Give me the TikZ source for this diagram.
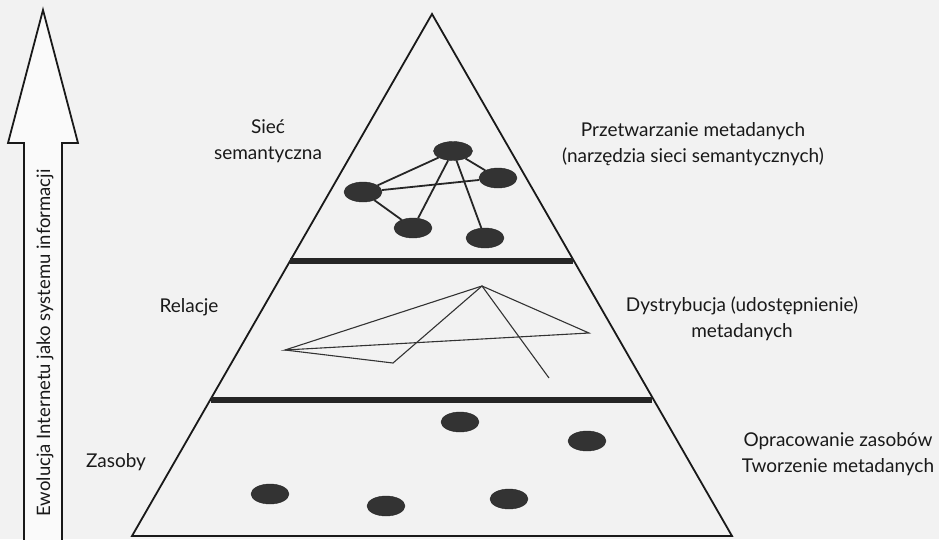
\documentclass[tikz,border=0pt]{standalone}
\usepackage{fontspec}
\setmainfont{Lato}
\usetikzlibrary{shapes.geometric}
\begin{document}
\begin{tikzpicture}[x=1pt,y=-1pt,
  txt/.style={font=\fontsize{19}{25.5}\selectfont, text=black!90, align=center, inner sep=0pt},
  dot/.style={ellipse, fill=black!80, draw=black!85, minimum width=38pt, minimum height=20pt, inner sep=0pt},
  edge/.style={draw=black!85, line width=1.8pt},
  rel/.style={draw=black!80, line width=1.1pt},
  band/.style={draw=black!85, line width=6pt},
  frame/.style={draw=black!90, line width=1.8pt, line join=miter}]
\fill[black!5] (0,0) rectangle (939,539);
\useasboundingbox (0,0) rectangle (939,539);

% arrow
\draw[frame, fill=white!60!black!5] (24,542) -- (24,143) -- (8,143) -- (43,10) -- (78,143) -- (62,143) -- (62,542);
\node[txt, rotate=90, font=\fontsize{18.5}{22}\selectfont] (evo) at (45,343) {Ewolucja Internetu jako systemu informacji};

% pyramid
\coordinate (apex) at (432,14);
\coordinate (bl) at (132,536);
\coordinate (br) at (732,536);
\draw[frame] (bl) -- (apex) -- (br) -- cycle;
\coordinate (b1l) at (290,261);
\coordinate (b1r) at (573,261);
\coordinate (b2l) at (211,400);
\coordinate (b2r) at (652,400);
\draw[band] (b1l) -- (b1r);
\draw[band] (b2l) -- (b2r);

% semantic network
\node[dot, minimum width=39pt, minimum height=19pt] (n1) at (453,151) {};
\node[dot] (n2) at (498,178) {};
\node[dot] (n3) at (363,192) {};
\node[dot] (n4) at (413,228) {};
\node[dot] (n5) at (485,238) {};
\draw[edge] (n1) -- (n3);
\draw[edge] (n1) -- (n2);
\draw[edge] (n1) -- (n4);
\draw[edge] (n1) -- (n5);
\draw[edge] (n3) -- (n2);
\draw[edge] (n3) -- (n4);

% relations
\coordinate (rA) at (482,286);
\coordinate (rL) at (285,350);
\coordinate (rR) at (589,333);
\coordinate (rV) at (393,363);
\coordinate (rE) at (549,378);
\draw[rel] (rL) -- (rA) -- (rR) -- cycle;
\draw[rel] (rL) -- (rV) -- (rA) -- (rE);

% resources
\node[dot] (z1) at (460,422) {};
\node[dot] (z2) at (587,441) {};
\node[dot] (z3) at (270,494) {};
\node[dot] (z4) at (386,506) {};
\node[dot] (z5) at (509,499) {};

% labels
\node[txt] (l1) at (268,141) {Sieć\\semantyczna};
\node[txt] (l2) at (189,307) {Relacje};
\node[txt] (l3) at (116,462) {Zasoby};
\node[txt] (r1) at (693,144) {Przetwarzanie metadanych\\(narzędzia sieci semantycznych)};
\node[txt] (r2) at (742,319) {Dystrybucja (udostępnienie)\\metadanych};
\node[txt] (r3) at (838,454) {Opracowanie zasobów\\Tworzenie metadanych};
\end{tikzpicture}
\end{document}
